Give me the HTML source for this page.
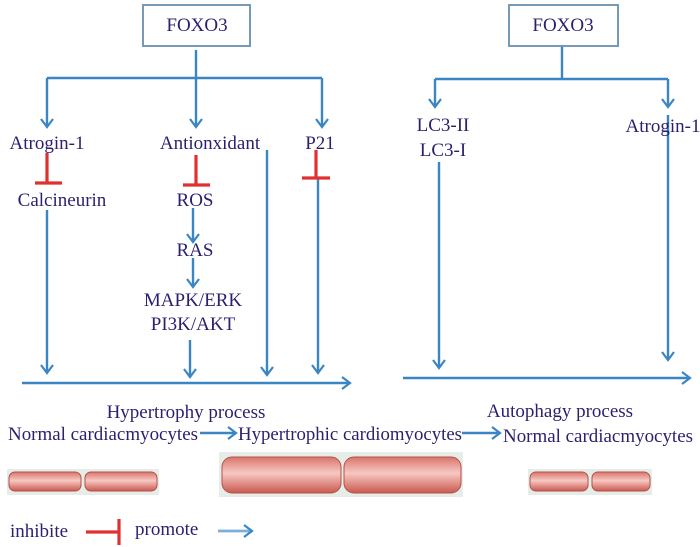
<!DOCTYPE html>
<html><head><meta charset="utf-8"><style>
html,body{margin:0;padding:0;background:#fff;}
svg{display:block;}
text{font-family:"Liberation Serif",serif;fill:#2b1f6e;font-size:19px;}
</style></head><body>
<svg width="700" height="547" viewBox="0 0 700 547" xmlns="http://www.w3.org/2000/svg">
<defs>
<marker id="a" markerWidth="14" markerHeight="14" refX="10" refY="7" orient="auto" markerUnits="userSpaceOnUse">
<path d="M2,1 L10,7 L2,13" fill="none" stroke="#3a86c4" stroke-width="2.2"/>
</marker>
<linearGradient id="cell" x1="0" y1="0" x2="0" y2="1">
<stop offset="0" stop-color="#d9746c"/><stop offset="0.45" stop-color="#f7c8c2"/><stop offset="1" stop-color="#c9594f"/>
</linearGradient>
</defs>
<g stroke="#3a86c4" stroke-width="2.4" fill="none">
<line x1="196" y1="50" x2="196" y2="78"/>
<line x1="47" y1="78" x2="322" y2="78"/>
<line x1="47" y1="78" x2="47" y2="127" marker-end="url(#a)"/>
<line x1="196" y1="78" x2="196" y2="127" marker-end="url(#a)"/>
<line x1="322" y1="78" x2="322" y2="127" marker-end="url(#a)"/>
<line x1="47" y1="210" x2="47" y2="373" marker-end="url(#a)"/>
<line x1="267" y1="150" x2="267" y2="375" marker-end="url(#a)"/>
<line x1="318" y1="178" x2="318" y2="373" marker-end="url(#a)"/>
<line x1="193" y1="208" x2="193" y2="242" marker-end="url(#a)"/>
<line x1="193" y1="258" x2="193" y2="287" marker-end="url(#a)"/>
<line x1="190" y1="340" x2="190" y2="377" marker-end="url(#a)"/>
<line x1="22" y1="383" x2="350" y2="383" marker-end="url(#a)"/>
<line x1="562" y1="46" x2="562" y2="79"/>
<line x1="435" y1="79" x2="668" y2="79"/>
<line x1="435" y1="79" x2="435" y2="107" marker-end="url(#a)"/>
<line x1="668" y1="79" x2="668" y2="107" marker-end="url(#a)"/>
<line x1="439" y1="162" x2="439" y2="368" marker-end="url(#a)"/>
<line x1="668" y1="115" x2="668" y2="360" marker-end="url(#a)"/>
<line x1="403" y1="378" x2="690" y2="378" marker-end="url(#a)"/>
<line x1="200" y1="433" x2="236" y2="433" marker-end="url(#a)"/>
<line x1="462" y1="433" x2="500" y2="433" marker-end="url(#a)"/>
<line x1="218" y1="531" x2="252" y2="531" marker-end="url(#a)" stroke="#7ab0d8" stroke-width="2.8"/>
</g>
<rect x="143" y="5" width="107" height="41" fill="none" stroke="#6a90ad" stroke-width="1.8"/>
<rect x="509" y="5" width="109" height="41" fill="none" stroke="#6a90ad" stroke-width="1.8"/>
<g stroke="#e03030" stroke-width="3.2" fill="none">
<line x1="47" y1="153" x2="47" y2="183"/><line x1="35" y1="183" x2="62" y2="183"/>
<line x1="196" y1="155" x2="196" y2="185"/><line x1="183" y1="185" x2="210" y2="185"/>
<line x1="316" y1="150" x2="316" y2="178"/><line x1="302" y1="178" x2="330" y2="178"/>
<line x1="86" y1="532" x2="118" y2="532"/><line x1="119" y1="519" x2="119" y2="545"/>
</g>
<text x="197" y="31" text-anchor="middle">FOXO3</text>
<text x="563" y="31" text-anchor="middle">FOXO3</text>
<text x="47" y="149" text-anchor="middle">Atrogin-1</text>
<text x="210" y="149" text-anchor="middle">Antionxidant</text>
<text x="320" y="149" text-anchor="middle">P21</text>
<text x="62" y="206" text-anchor="middle">Calcineurin</text>
<text x="195" y="206" text-anchor="middle">ROS</text>
<text x="195" y="256" text-anchor="middle">RAS</text>
<text x="193" y="306" text-anchor="middle">MAPK/ERK</text>
<text x="193" y="330" text-anchor="middle">PI3K/AKT</text>
<text x="443" y="131" text-anchor="middle">LC3-II</text>
<text x="443" y="156" text-anchor="middle">LC3-I</text>
<text x="663" y="132" text-anchor="middle">Atrogin-1</text>
<text x="186" y="418" text-anchor="middle">Hypertrophy process</text>
<text x="560" y="417" text-anchor="middle">Autophagy process</text>
<text x="8" y="440" textLength="190" lengthAdjust="spacingAndGlyphs">Normal cardiacmyocytes</text>
<text x="238" y="440" textLength="224" lengthAdjust="spacingAndGlyphs">Hypertrophic cardiomyocytes</text>
<text x="503" y="442" textLength="190" lengthAdjust="spacingAndGlyphs">Normal cardiacmyocytes</text>
<text x="10" y="537">inhibite</text>
<text x="135" y="535">promote</text>
<g stroke="#b4524a" stroke-width="1">
<rect x="7" y="469" width="152" height="26" fill="#e6ece8" stroke="none"/>
<rect x="9" y="472" width="72" height="19" rx="6" fill="url(#cell)"/>
<rect x="85" y="472" width="72" height="19" rx="6" fill="url(#cell)"/>
<rect x="219" y="452" width="244" height="45" fill="#e6ece8" stroke="none"/>
<rect x="222" y="457" width="119" height="36" rx="10" fill="url(#cell)"/>
<rect x="344" y="457" width="117" height="36" rx="10" fill="url(#cell)"/>
<rect x="528" y="469" width="124" height="26" fill="#e6ece8" stroke="none"/>
<rect x="530" y="472" width="58" height="19" rx="6" fill="url(#cell)"/>
<rect x="592" y="472" width="58" height="19" rx="6" fill="url(#cell)"/>
</g>
</svg>
</body></html>
